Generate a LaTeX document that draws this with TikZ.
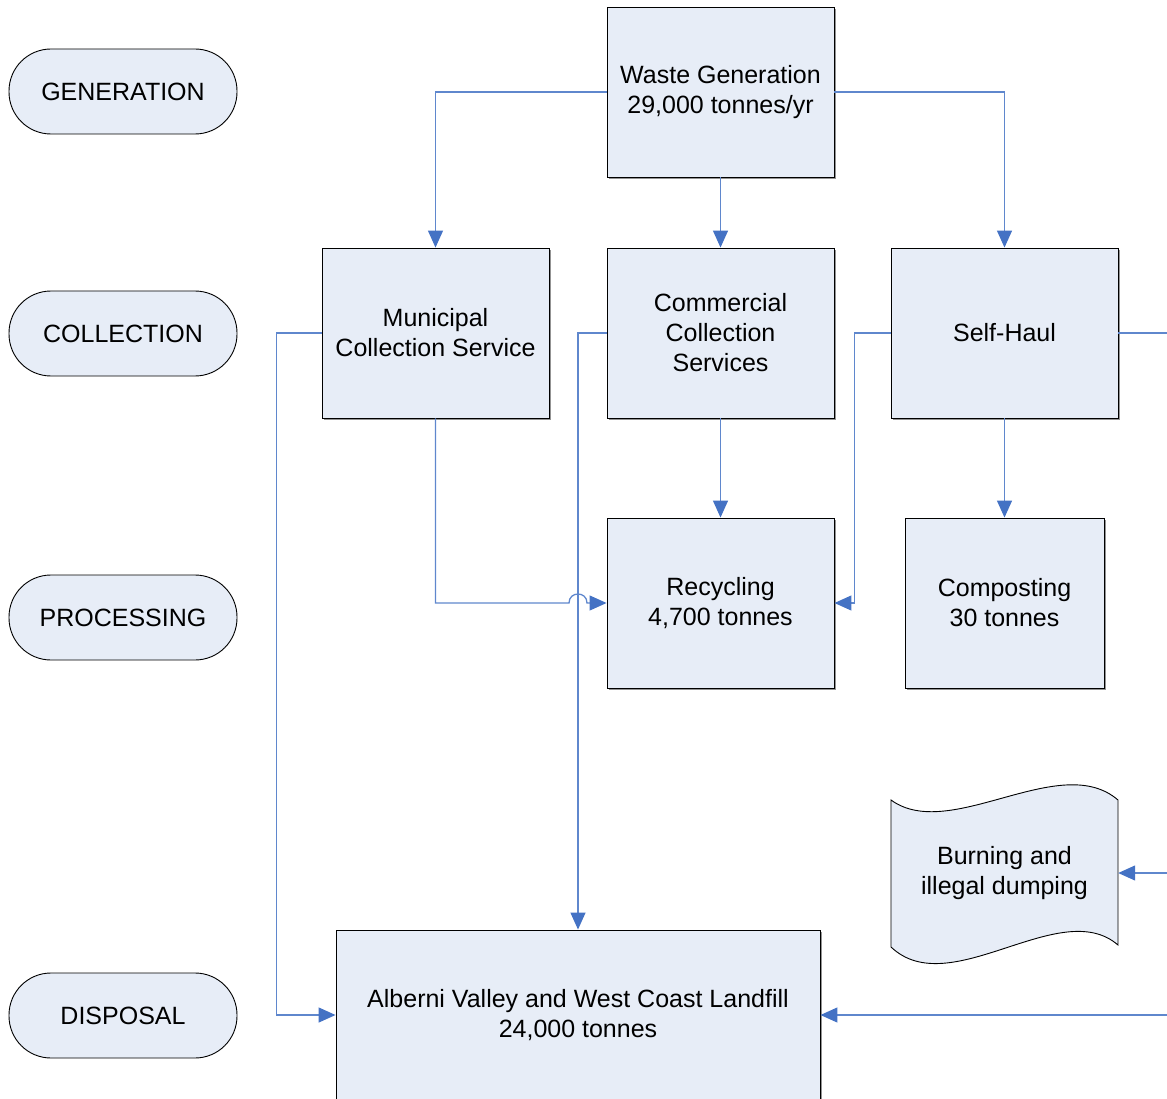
\documentclass[tikz,border=0pt]{standalone}
\usepackage{fontspec}
\setmainfont{Liberation Sans}
\usetikzlibrary{arrows.meta,shadows}
\definecolor{boxfill}{RGB}{231,237,247}
\definecolor{lineblue}{RGB}{95,135,205}
\definecolor{tipblue}{RGB}{68,114,196}
\begin{document}
\begin{tikzpicture}[x=1pt,y=-1pt,
  every node/.style={font=\fontsize{25}{30}\selectfont, align=center},
  box/.style={draw=black, line width=0.9pt, fill=boxfill, minimum width=227pt, minimum height=170pt, inner sep=0pt,
    drop shadow={shadow xshift=1.6pt, shadow yshift=-1.6pt, fill=gray!85, opacity=1}},
  stage/.style={draw=black, line width=0.9pt, fill=boxfill, rounded corners=42pt, minimum width=228pt, minimum height=85pt, inner sep=0pt},
  flow/.style={draw=lineblue, line width=1.3pt, -{Triangle[length=17pt,width=15pt,color=tipblue,fill=tipblue]}},
  plain/.style={draw=lineblue, line width=1.3pt}]
\useasboundingbox (0,0) rectangle (1167,1099);
\clip (0,0) rectangle (1167,1099);

% stage labels
\node[stage] (gen) at (123,91.5) {GENERATION};
\node[stage] (col) at (123,333.5) {COLLECTION};
\node[stage] (pro) at (123,617.5) {PROCESSING};
\node[stage] (dis) at (123,1015.5) {DISPOSAL};

% boxes
\node[box] (wg) at (720.5,92) {Waste Generation\\29,000 tonnes/yr};
\node[box] (mun) at (435.5,333) {Municipal\\Collection Service};
\node[box] (com) at (720.5,333) {Commercial\\Collection\\Services};
\node[box] (sh) at (1004.5,333) {Self-Haul};
\node[box] (rec) at (720.5,603) {Recycling\\4,700 tonnes};
\node[box, minimum width=199pt] (comp) at (1004.5,603) {Composting\\30 tonnes};
\node[box, minimum width=484pt] (lf) at (578,1015) {Alberni Valley and West Coast Landfill\\24,000 tonnes};

% burning (wavy document shape)
\path[draw=black, line width=0.9pt, fill=boxfill]
  (891,800) .. controls (950,843) and (1060,750) .. (1118,800)
  -- (1118,945) .. controls (1060,895) and (950,1003) .. (891,947) -- cycle;
\node[minimum width=227pt, minimum height=140pt, inner sep=0pt] (burn) at (1004.5,873) {Burning and\\illegal dumping};

% free ends at the right edge
\coordinate (shout) at (1167,333);
\coordinate (bin) at (1167,873);
\coordinate (lin) at (1167,1015);
\coordinate (hopa) at (569,603);
\coordinate (hopb) at (587,603);

% connectors
\draw[flow] (wg.west) -| (mun.north);
\draw[flow] (wg.south) -- (com.north);
\draw[flow] (wg.east) -| (sh.north);
\draw[flow] (mun.west) -- ++(-45,0) |- (lf.west);
\draw[flow] (mun.south) |- (hopa) .. controls (569,591) and (587,591) .. (hopb) -- (rec.west);
\draw[flow] (com.west) -| (lf.north);
\draw[flow] (com.south) -- (rec.north);
\draw[flow] (sh.west) -- ++(-36,0) |- (rec.east);
\draw[flow] (sh.south) -- (comp.north);
\draw[plain] (sh.east) -- (shout);
\draw[flow] (bin) -- (burn.east);
\draw[flow] (lin) -- (lf.east);
\end{tikzpicture}
\end{document}
